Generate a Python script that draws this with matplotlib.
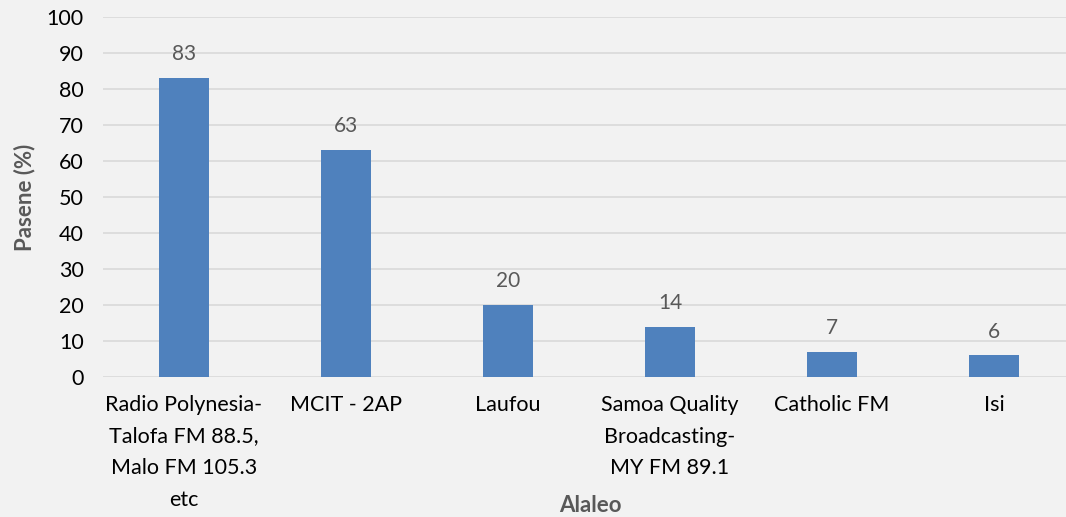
import matplotlib.pyplot as plt
import numpy as np

CATEGORIES = [
    "Radio Polynesia-\nTalofa FM 88.5,\nMalo FM 105.3\netc",
    "MCIT - 2AP",
    "Laufou",
    "Samoa Quality\nBroadcasting-\nMY FM 89.1",
    "Catholic FM",
    "Isi",
]
VALUES = [83, 63, 20, 14, 7, 6]
Y_TICKS = list(range(0, 101, 10))

BG = "#F2F2F2"
BAR = "#4F81BD"
GRID = "#D9D9D9"
LABEL_GREY = "#595959"

plt.rcParams["font.family"] = ["Lato", "DejaVu Sans"]

fig = plt.figure(figsize=(10.66, 5.17), dpi=100, facecolor=BG)
ax = fig.add_axes([103 / 1066, 140 / 517, 972 / 1066, 360 / 517])
ax.set_facecolor(BG)

x = np.arange(len(CATEGORIES))
ax.bar(x, VALUES, width=0.31, color=BAR, zorder=3)
for xi, v in zip(x, VALUES):
    ax.annotate(str(v), (xi, v), xytext=(0, 10), textcoords="offset points",
                ha="center", va="bottom", fontsize=15, color=LABEL_GREY)

ax.set_xlim(-0.5, len(CATEGORIES) - 0.5)
ax.set_ylim(0, 100)
ax.set_yticks(Y_TICKS)
ax.set_xticks(x)
ax.set_xticklabels(CATEGORIES, fontsize=15.5, linespacing=1.72, va="top")
ax.tick_params(axis="y", labelsize=15.5, length=0, pad=14)
ax.tick_params(axis="x", length=0, pad=13)
ax.grid(axis="y", color=GRID, linewidth=1.2, zorder=0)
for s in ax.spines.values():
    s.set_visible(False)

ax.set_ylabel("Pasene (%)", fontsize=16, fontweight="bold", color=LABEL_GREY, labelpad=8)
fig.text(590 / 1066, 1 - 505 / 517, "Alaleo", fontsize=16, fontweight="bold",
         color=LABEL_GREY, ha="center", va="center")

fig.savefig("out.png", facecolor=BG)
